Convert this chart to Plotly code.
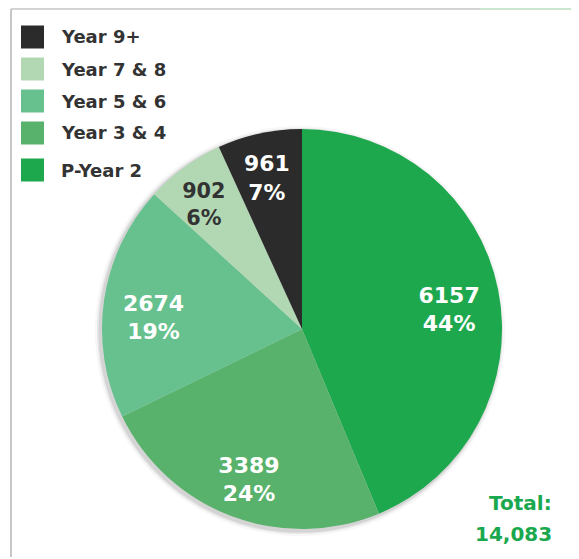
import plotly.graph_objects as go

categories = ["P-Year 2", "Year 3 & 4", "Year 5 & 6", "Year 7 & 8", "Year 9+"]
values = [6157, 3389, 2674, 902, 961]
colors = ["#1ea84e", "#58b26b", "#66c18e", "#b2d8b3", "#2b2b2b"]
text_colors = ["#ffffff", "#ffffff", "#ffffff", "#333333", "#ffffff"]
total_label = "Total:"

# page body has an 8px margin; map screen coords to figure coords
OFF = 8
W, H = 571, 551
FONT = "DejaVu Sans, Verdana, sans-serif"

def px(x):
    return (x - OFF) / W

def py(y):
    return 1 - (y - OFF) / H

total = sum(values)
dom = dict(x=[px(102), px(502)], y=[py(529), py(129)])
LAB_SHIFT = 10
dom_lab = dict(x=[px(102), px(502)], y=[py(529 + LAB_SHIFT), py(129 + LAB_SHIFT)])

fig = go.Figure()
# solid pie body
fig.add_trace(go.Pie(
    labels=categories, values=values, sort=False, direction="clockwise", rotation=0,
    marker=dict(colors=colors, line=dict(width=0)),
    textinfo="none", domain=dom, showlegend=False,
    hoverinfo="label+value+percent",
))
# transparent ring carrying the labels (places text out toward the rim)
fig.add_trace(go.Pie(
    labels=categories, values=values, sort=False, direction="clockwise", rotation=0,
    hole=0.5,
    marker=dict(colors=["rgba(0,0,0,0)"] * len(values), line=dict(width=0)),
    texttemplate="<b>%{value}</b><br><b>%{percent:.0%}</b>",
    textposition="inside",
    insidetextorientation="horizontal",
    textfont=dict(family=FONT, size=22, color=text_colors),
    domain=dom_lab, showlegend=False, hoverinfo="skip",
))

shapes = []
# soft shadow behind pie
for r, op in [(205, 0.05), (203, 0.09), (201.5, 0.14)]:
    cx, cy = 300, 331
    shapes.append(dict(type="circle", xref="paper", yref="paper",
                       x0=px(cx - r), x1=px(cx + r), y0=py(cy + r), y1=py(cy - r),
                       fillcolor=f"rgba(90,90,90,{op})", line=dict(width=0), layer="below"))

# frame lines
shapes.append(dict(type="line", xref="paper", yref="paper", x0=px(11), x1=px(11), y0=py(9), y1=py(557),
                   line=dict(color="#b5b5b5", width=1.5)))
shapes.append(dict(type="line", xref="paper", yref="paper", x0=px(11), x1=px(480), y0=py(9), y1=py(9),
                   line=dict(color="#c4c4c4", width=1.5)))
shapes.append(dict(type="line", xref="paper", yref="paper", x0=px(480), x1=px(572), y0=py(9), y1=py(9),
                   line=dict(color="#b8dfc2", width=1.5)))
shapes.append(dict(type="line", xref="paper", yref="paper", x0=px(572), x1=px(572), y0=py(9), y1=py(559),
                   line=dict(color="#1db24f", width=1.5)))

annotations = []
# legend (reversed order, top = last category)
legend_rows = list(reversed(list(zip(categories, colors))))
row_y = [37, 69, 101, 133, 170]
for i, (lab, col) in enumerate(legend_rows):
    yc = row_y[i]
    shapes.append(dict(type="rect", xref="paper", yref="paper",
                       x0=px(21), x1=px(44), y0=py(yc + 11.5), y1=py(yc - 11.5),
                       fillcolor=col, line=dict(width=0)))
    annotations.append(dict(x=px(59), y=py(yc), xref="paper", yref="paper",
                            text=f"<b>{lab}</b>", showarrow=False, xanchor="left", yanchor="middle",
                            font=dict(family=FONT, size=18, color="#333333")))

annotations.append(dict(x=px(554), y=py(503), xref="paper", yref="paper",
                        text=f"<b>{total_label}</b>", showarrow=False, xanchor="right", yanchor="middle",
                        font=dict(family=FONT, size=20, color="#1aa84e")))
annotations.append(dict(x=px(554), y=py(534), xref="paper", yref="paper",
                        text=f"<b>{total:,}</b>", showarrow=False, xanchor="right", yanchor="middle",
                        font=dict(family=FONT, size=20, color="#1aa84e")))

fig.update_layout(
    width=W, height=H,
    margin=dict(l=0, r=0, t=0, b=0),
    paper_bgcolor="white",
    plot_bgcolor="white",
    shapes=shapes,
    annotations=annotations,
)

fig.write_html("out.html")
